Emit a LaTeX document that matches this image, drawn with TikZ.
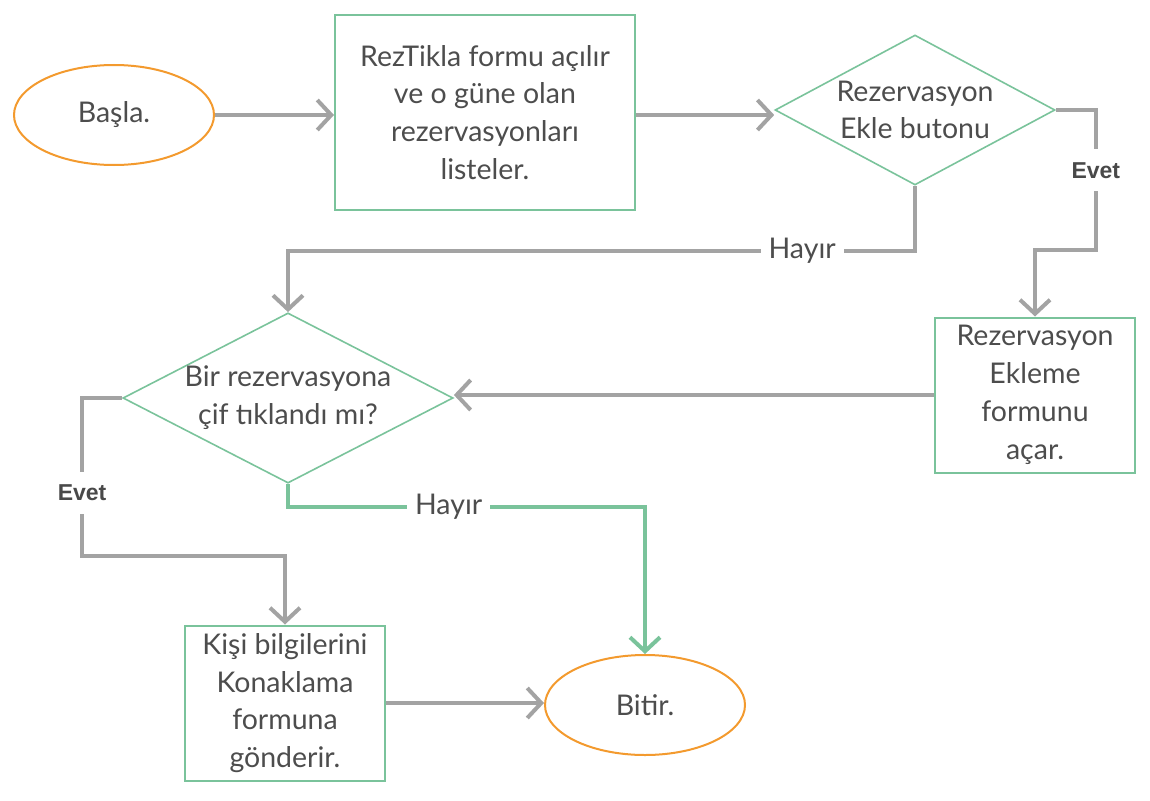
\documentclass[tikz,border=0pt]{standalone}
\usepackage{fontspec}
\setmainfont{Lato}
\newfontfamily\evetfont{Liberation Sans}
\usetikzlibrary{shapes.geometric,arrows.meta}

\definecolor{boxgreen}{HTML}{7AC39B}
\definecolor{termorange}{HTML}{F39A2E}
\definecolor{flowgray}{HTML}{A3A3A3}
\definecolor{txtgray}{HTML}{4D4D4D}

\tikzset{
  term/.style={ellipse,draw=termorange,line width=2pt,minimum width=200pt,minimum height=100pt,inner sep=0pt},
  proc/.style={rectangle,draw=boxgreen,line width=2pt,minimum width=200pt,minimum height=155pt,align=center},
  cond/.style={diamond,draw=boxgreen,line width=1.6pt,inner sep=0pt,align=center},
  flow/.style={draw=flowgray,line width=4pt,-{Straight Barb[length=14pt,width=30pt]}},
  yes/.style={fill=white,font=\evetfont\bfseries\fontsize{23}{23}\selectfont,text=txtgray!95!black,inner xsep=6pt,inner ysep=13pt},
  no/.style={fill=white,inner xsep=8pt,inner ysep=4pt}
}

\begin{document}
\begin{tikzpicture}[x=1pt,y=-1pt,font=\fontsize{28.5}{37.8}\selectfont,text=txtgray]
	\useasboundingbox (0,0) rectangle (1150,800);
	\node[term] (start) at (114,115) {Başla.};
	\node[proc,minimum width=300pt,minimum height=195pt] (listbox) at (485,112.5) {RezTikla formu açılır\\ve o güne olan\\rezervasyonları\\listeler.};
	\node[cond,aspect=1.87,minimum width=280pt,minimum height=150pt] (addbtn) at (915,110) {Rezervasyon\\Ekle butonu};
	\node[proc] (addform) at (1035,395) {Rezervasyon\\Ekleme\\formunu\\açar.};
	\node[cond,aspect=1.94,minimum width=330pt,minimum height=170pt] (dblclick) at (288,398) {Bir rezervasyona\\çif tıklandı mı?};
	\node[proc] (sendbox) at (285,703) {Kişi bilgilerini\\Konaklama\\formuna\\gönderir.};
	\node[term] (finish) at (645,705) {Bitir.};

	\draw[flow] (start.east) -- (listbox.west |- start.east);
	\draw[flow] (listbox.east |- 0,115) -- (addbtn.west |- 0,115);
	\draw[flow] (addbtn.east) -- ++(40,0) -- node[yes,pos=0.43] {Evet} ++(0,140) -| (addform.north);
	\draw[flow] (addbtn.south) -- ++(0,65) -| node[no,pos=0.09] {Hayır} (dblclick.north);
	\draw[flow] (addform.west |- 0,395) -- (dblclick.east |- 0,395);
	\draw[flow] (dblclick.west) -- ++(-40,0) -- node[yes,pos=0.6] {Evet} ++(0,158) -| (sendbox.north);
	\draw[flow,draw=boxgreen] (dblclick.south) -- ++(0,23) -| node[no,pos=0.225] {Hayır} (finish.north);
	\draw[flow] (sendbox.east) -- (finish.west |- sendbox.east);
\end{tikzpicture}
\end{document}
